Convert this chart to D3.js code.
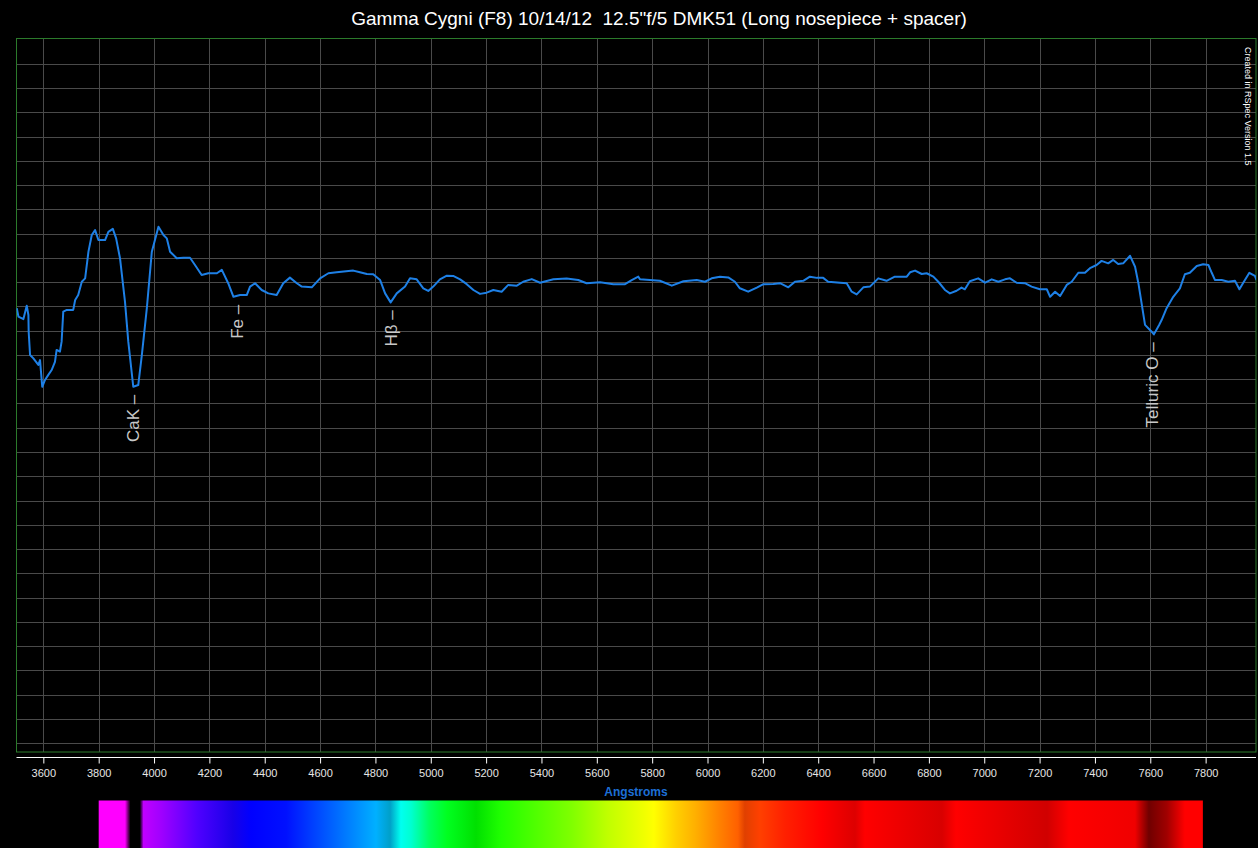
<!DOCTYPE html>
<html>
<head>
<meta charset="utf-8">
<script src="https://cdn.jsdelivr.net/npm/d3@7"></script>
<style>
    html, body { margin: 0; padding: 0; background: #000; }
    svg { display: block; font-family: "Liberation Sans", Arial, sans-serif; }
</style>
</head>
<body>
<div id="chart"></div>
<script>
// Spectrum profile (wavelength in Angstroms, relative intensity)
const wavelengths = [
    3504, 3510, 3528, 3540, 3546, 3547, 3552, 3564, 3582, 3588, 3596, 3606, 3618, 3630, 3642, 3648,
    3660, 3666, 3672, 3685, 3708, 3715, 3726, 3739, 3751, 3763, 3775, 3787, 3799, 3823, 3835, 3851,
    3863, 3877, 3895, 3907, 3925, 3943, 3956, 3974, 3992, 4016, 4034, 4046, 4058, 4082, 4106, 4130,
    4148, 4172, 4196, 4227, 4245, 4268, 4287, 4311, 4335, 4347, 4365, 4389, 4413, 4443, 4467, 4491,
    4516, 4534, 4570, 4600, 4630, 4660, 4720, 4744, 4769, 4792, 4817, 4835, 4855, 4877, 4907, 4925,
    4949, 4973, 4991, 5009, 5033, 5058, 5081, 5106, 5130, 5154, 5178, 5202, 5226, 5256, 5280, 5311,
    5334, 5365, 5395, 5443, 5491, 5533, 5563, 5612, 5660, 5702, 5726, 5750, 5756, 5792, 5828, 5871,
    5913, 5961, 5991, 6015, 6045, 6075, 6099, 6117, 6147, 6178, 6202, 6238, 6262, 6292, 6316, 6346,
    6370, 6395, 6418, 6436, 6479, 6503, 6521, 6539, 6563, 6587, 6617, 6647, 6677, 6720, 6732, 6750,
    6774, 6792, 6816, 6834, 6858, 6876, 6900, 6918, 6930, 6948, 6978, 7003, 7027, 7051, 7075, 7093,
    7117, 7147, 7171, 7201, 7226, 7238, 7256, 7274, 7298, 7316, 7340, 7364, 7382, 7406, 7424, 7448,
    7466, 7484, 7502, 7527, 7545, 7557, 7581, 7605, 7613, 7632, 7641, 7659, 7683, 7707, 7725, 7743,
    7768, 7791, 7810, 7822, 7834, 7858, 7882, 7906, 7922, 7936, 7958, 7978, 7984
];
const intensities = [
    1.793, 1.758, 1.748, 1.803, 1.765, 1.696, 1.600, 1.586, 1.559, 1.579, 1.469, 1.497, 1.518, 1.538, 1.572, 1.621,
    1.614, 1.655, 1.779, 1.786, 1.786, 1.827, 1.847, 1.902, 1.916, 2.026, 2.095, 2.115, 2.074, 2.074, 2.108, 2.120,
    2.081, 1.999, 1.820, 1.655, 1.469, 1.476, 1.600, 1.793, 2.026, 2.129, 2.095, 2.081, 2.026, 1.999, 2.001, 2.001,
    1.971, 1.930, 1.937, 1.937, 1.951, 1.896, 1.840, 1.847, 1.847, 1.882, 1.896, 1.868, 1.854, 1.847, 1.896, 1.919,
    1.896, 1.882, 1.879, 1.916, 1.937, 1.941, 1.948, 1.941, 1.934, 1.933, 1.909, 1.854, 1.817, 1.854, 1.882, 1.916,
    1.912, 1.875, 1.864, 1.882, 1.912, 1.927, 1.926, 1.912, 1.892, 1.868, 1.852, 1.857, 1.868, 1.861, 1.889, 1.886,
    1.902, 1.913, 1.898, 1.912, 1.915, 1.909, 1.896, 1.900, 1.892, 1.892, 1.909, 1.923, 1.912, 1.909, 1.906, 1.886,
    1.904, 1.909, 1.902, 1.916, 1.923, 1.920, 1.902, 1.875, 1.861, 1.878, 1.892, 1.893, 1.896, 1.879, 1.902, 1.906,
    1.923, 1.918, 1.918, 1.902, 1.898, 1.896, 1.861, 1.850, 1.879, 1.882, 1.916, 1.906, 1.923, 1.923, 1.941, 1.948,
    1.934, 1.937, 1.923, 1.902, 1.868, 1.854, 1.865, 1.878, 1.871, 1.904, 1.916, 1.898, 1.912, 1.902, 1.912, 1.916,
    1.898, 1.896, 1.882, 1.871, 1.871, 1.840, 1.861, 1.843, 1.889, 1.902, 1.939, 1.939, 1.958, 1.971, 1.988, 1.978,
    1.992, 1.975, 1.978, 2.009, 1.964, 1.896, 1.724, 1.696, 1.685, 1.724, 1.744, 1.793, 1.840, 1.875, 1.933, 1.939,
    1.967, 1.974, 1.971, 1.939, 1.909, 1.909, 1.902, 1.906, 1.871, 1.898, 1.939, 1.926, 1.909
];

// Line identifications
const lineNames = ["CaK", "Fe", "H\u03b2", "Telluric O"];
const lineWavelengths = [3925, 4299, 4855, 7605];
const lineDepths = [1.469, 1.840, 1.817, 1.685];

// Axis ticks
const xTicks = [3600, 3800, 4000, 4200, 4400, 4600, 4800, 5000, 5200, 5400, 5600, 5800,
    6000, 6200, 6400, 6600, 6800, 7000, 7200, 7400, 7600, 7800];
const yGrid = d3.range(0, 2.85, 0.1);

// Synthetic spectrum strip colours
const stripWavelengths = [3800, 3895, 3915, 3949, 3962, 4025, 4155, 4285, 4350, 4477, 4607, 4737,
    4802, 4853, 4892, 4929, 4994, 5059, 5164, 5254, 5380, 5510, 5640, 5770, 5806, 5886, 5955, 6045,
    6110, 6135, 6189, 6280, 6413, 6533, 6569, 6847, 6898, 7227, 7306, 7545, 7595, 7660, 7725, 7790];
const stripColors = ["#ff00ff", "#ff00ff", "#000000", "#000000", "#c000ff", "#a000ff", "#5000ff", "#1800e8",
    "#0000ff", "#0010ff", "#0050ff", "#0090ff", "#00b0ff", "#00a0c8", "#00fff0", "#00ffd0", "#00ff60",
    "#00ff20", "#00e000", "#20ff00", "#50ff00", "#80ff00", "#c0ff00", "#f0ff00", "#ffff00", "#ffd000",
    "#ffb000", "#ff8000", "#ff6000", "#e04000", "#ff4000", "#ff2000", "#ff0000", "#dd0000", "#ff0000",
    "#d80000", "#ff0000", "#d00000", "#ff0000", "#f00000", "#700000", "#a00000", "#ff0000", "#ff0000"];

const data = wavelengths.map((w, i) => ({ w: w, v: intensities[i] }));

const width = 1258, height = 848;
const plot = { left: 16.5, top: 38.5, right: 1256, bottom: 752 };

const svg = d3.select("#chart")
    .append("svg")
    .attr("width", width)
    .attr("height", height);

svg.append("rect")
    .attr("width", width)
    .attr("height", height)
    .attr("fill", "#000");

// Scales
const x = d3.scaleLinear()
    .domain([3503, 7982])
    .range([plot.left, plot.right]);

const y = d3.scaleLinear()
    .domain([-0.037, 2.905])
    .range([plot.bottom, plot.top]);

// Grid
svg.append("g")
    .selectAll("line")
    .data(yGrid)
    .enter()
    .append("line")
    .attr("x1", plot.left)
    .attr("x2", plot.right)
    .attr("y1", d => Math.round(y(d)) + 0.5)
    .attr("y2", d => Math.round(y(d)) + 0.5)
    .attr("stroke", "#4a4a4a");

svg.append("g")
    .selectAll("line")
    .data(xTicks)
    .enter()
    .append("line")
    .attr("x1", d => Math.round(x(d)) + 0.5)
    .attr("x2", d => Math.round(x(d)) + 0.5)
    .attr("y1", plot.top)
    .attr("y2", plot.bottom)
    .attr("stroke", "#4a4a4a");

// Plot border
svg.append("rect")
    .attr("x", plot.left)
    .attr("y", plot.top)
    .attr("width", plot.right - plot.left)
    .attr("height", plot.bottom - plot.top)
    .attr("fill", "none")
    .attr("stroke", "#2b7a2b");

// Spectrum line
svg.append("clipPath")
    .attr("id", "plot-clip")
    .append("rect")
    .attr("x", plot.left)
    .attr("y", plot.top)
    .attr("width", plot.right - plot.left)
    .attr("height", plot.bottom - plot.top);

const line = d3.line()
    .x(d => x(d.w))
    .y(d => y(d.v));

svg.append("path")
    .datum(data)
    .attr("clip-path", "url(#plot-clip)")
    .attr("fill", "none")
    .attr("stroke", "#1e80e6")
    .attr("stroke-width", 2)
    .attr("stroke-linejoin", "round")
    .attr("d", line);

// Line identification labels (rotated, reading upward)
lineNames.forEach((name, i) => {
    const lx = x(lineWavelengths[i]);
    const ly = y(lineDepths[i]) + 8;
    svg.append("text")
        .attr("transform", `translate(${lx + 6}, ${ly}) rotate(-90)`)
        .attr("text-anchor", "end")
        .attr("fill", "#c8c8c8")
        .style("font-size", "17px")
        .text(name + " \u2013");
});

// X axis
const xAxis = svg.append("g")
    .attr("transform", `translate(0, 757.5)`)
    .call(d3.axisBottom(x).tickValues(xTicks).tickSize(6).tickFormat(d3.format("d")));

xAxis.select(".domain")
    .attr("stroke", "#fff")
    .attr("d", `M${plot.left},0H${plot.right}`);
xAxis.selectAll(".tick line").attr("stroke", "#fff");
xAxis.selectAll(".tick text")
    .attr("fill", "#e6e6e6")
    .attr("dy", "0.95em")
    .style("font-size", "11px")
    .style("font-family", "'Liberation Sans', Arial, sans-serif");

svg.append("text")
    .attr("x", 636)
    .attr("y", 795.5)
    .attr("text-anchor", "middle")
    .attr("fill", "#1d6fd6")
    .style("font-size", "12px")
    .style("font-weight", "bold")
    .text("Angstroms");

// Title
svg.append("text")
    .attr("x", 659)
    .attr("y", 25)
    .attr("text-anchor", "middle")
    .attr("fill", "#fff")
    .style("font-size", "19px")
    .style("white-space", "pre")
    .text("Gamma Cygni (F8) 10/14/12  12.5\"f/5 DMK51 (Long nosepiece + spacer)");

// Credit, rotated along the right edge
svg.append("text")
    .attr("transform", "translate(1245, 47) rotate(90)")
    .attr("fill", "#fff")
    .style("font-size", "9px")
    .text("Created in RSpec Version 1.5");

// Synthetic spectrum strip
const grad = svg.append("defs")
    .append("linearGradient")
    .attr("id", "strip-grad")
    .attr("x1", "0%")
    .attr("x2", "100%");

const stripX = d3.scaleLinear()
    .domain([stripWavelengths[0], stripWavelengths[stripWavelengths.length - 1]])
    .range([0, 100]);

grad.selectAll("stop")
    .data(stripWavelengths)
    .enter()
    .append("stop")
    .attr("offset", d => stripX(d) + "%")
    .attr("stop-color", (d, i) => stripColors[i]);

svg.append("rect")
    .attr("x", x(stripWavelengths[0]))
    .attr("y", 800.5)
    .attr("width", x(stripWavelengths[stripWavelengths.length - 1]) - x(stripWavelengths[0]))
    .attr("height", height - 800.5)
    .attr("fill", "url(#strip-grad)");
</script>
</body>
</html>
